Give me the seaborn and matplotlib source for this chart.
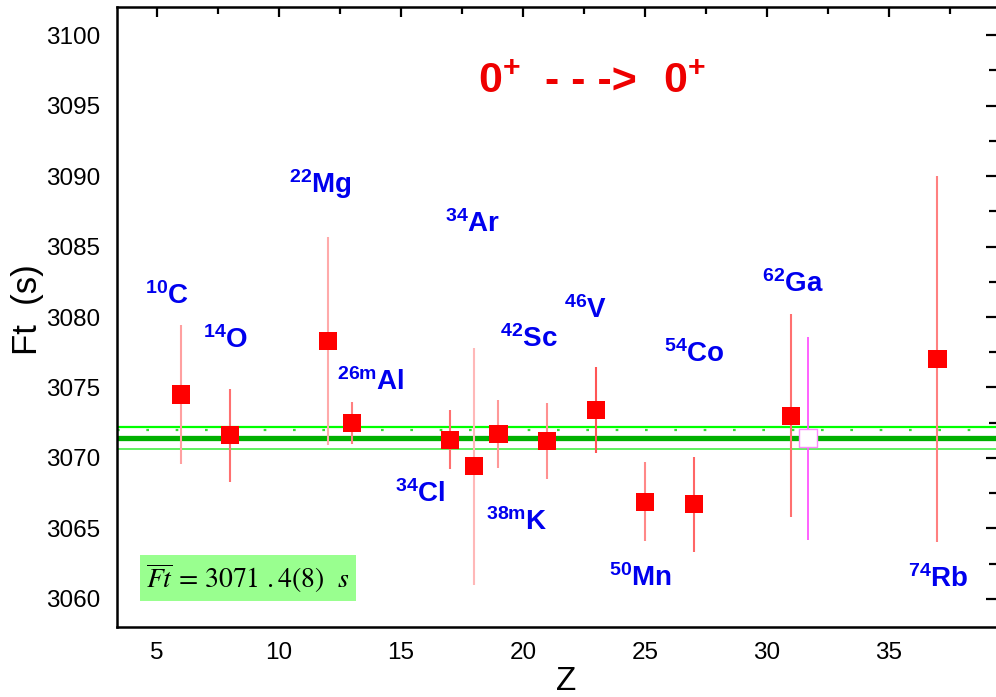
import numpy as np
import pandas as pd
import matplotlib
matplotlib.use("Agg")
import matplotlib.pyplot as plt
import seaborn as sns
from matplotlib.ticker import MultipleLocator

# ---------------- data ----------------
nuclides = ["10C", "14O", "22Mg", "26mAl", "34Cl", "34Ar", "38mK", "42Sc",
            "46V", "50Mn", "54Co", "62Ga", "74Rb"]
Z = [6, 8, 12, 13, 17, 18, 19, 21, 23, 25, 27, 31, 37]
Ft = [3074.5, 3071.6, 3078.3, 3072.5, 3071.3, 3069.4, 3071.7, 3071.2,
      3073.4, 3066.9, 3066.7, 3073.0, 3077.0]
Ft_err = [4.9, 3.3, 7.4, 1.5, 2.1, 8.4, 2.4, 2.7, 3.05, 2.8, 3.35, 7.2, 13.0]

# open (alternative) 62Ga point
alt_Z = [31.7]
alt_Ft = [3071.4]
alt_err = [7.2]

# weighted average band
avg_Ft = 3071.4
avg_err = 0.8
avg_dot = 3072.0

# label text (superscript mass, element) and anchor positions
lab_mass = ["10", "14", "22", "26m", "34", "34", "38m", "42", "46", "50", "54", "62", "74"]
lab_elem = ["C", "O", "Mg", "Al", "Cl", "Ar", "K", "Sc", "V", "Mn", "Co", "Ga", "Rb"]
lab_x = [4.5, 6.9, 10.4, 12.4, 14.75, 16.8, 18.5, 19.05, 21.7, 23.55, 25.8, 29.8, 35.8]
lab_y = [3080.9, 3077.8, 3088.8, 3074.8, 3066.9, 3086.0, 3064.9, 3077.9,
         3079.9, 3060.9, 3076.8, 3081.8, 3060.85]

# title pieces and positions
title_parts = [r"0$^{+}$", "- - ->", r"0$^{+}$"]
title_x = [18.16, 20.9, 25.74]
title_y = 3095.9

# ---------------- style ----------------
bar_colors = ["#ffa0a0", "#ff7070", "#ffaaaa", "#ff8080", "#ff7070", "#ffb8b8",
              "#ff9898", "#ff9090", "#ff5555", "#ff8888", "#ff6666", "#ff7070", "#ff8080"]

sns.set_style("white")
plt.rcParams["font.family"] = ["Liberation Sans", "DejaVu Sans"]
plt.rcParams["mathtext.fontset"] = "custom"
plt.rcParams["mathtext.rm"] = "Liberation Sans:bold"
plt.rcParams["mathtext.it"] = "Liberation Sans:bold"
plt.rcParams["mathtext.bf"] = "Liberation Sans:bold"

fig = plt.figure(figsize=(9.96, 6.97), dpi=100)
ax = fig.add_axes([117 / 996, 70 / 697, (996 - 117) / 996, (627 - 7) / 697])

# band
ax.axhline(avg_Ft + avg_err, color="#00ff00", lw=1.6, zorder=1)
ax.axhline(avg_Ft - avg_err, color="#44ee44", lw=1.2, zorder=1)
ax.axhline(avg_dot, color="#33dd33", lw=1.6, ls=(0, (1.2, 12)), zorder=1)
ax.axhline(avg_Ft, color="#00b000", lw=3.8, zorder=1)

# error bars
for zi, fi, ei, c in zip(Z, Ft, Ft_err, bar_colors):
    ax.vlines(zi, fi - ei, fi + ei, color=c, lw=1.5, zorder=2)
ax.vlines(alt_Z, np.array(alt_Ft) - np.array(alt_err), np.array(alt_Ft) + np.array(alt_err),
          color="#ff55ff", lw=1.3, zorder=2)

df = pd.DataFrame({"Z": Z, "Ft": Ft})
sns.scatterplot(data=df, x="Z", y="Ft", marker="s", s=170, color="#ff0000",
                edgecolor="none", linewidth=0, ax=ax, zorder=3)
df_alt = pd.DataFrame({"Z": alt_Z, "Ft": alt_Ft})
sns.scatterplot(data=df_alt, x="Z", y="Ft", marker="s", s=150, facecolor="white",
                edgecolor="#ff88ff", linewidth=1.0, ax=ax, zorder=3)

# nuclide labels
for m, e, x, y in zip(lab_mass, lab_elem, lab_x, lab_y):
    ax.text(x, y, r"$^{\mathrm{%s}}$%s" % (m, e), color="#0000ee", fontsize=20,
            fontweight="bold", ha="left", va="baseline", zorder=4)

# title inside plot
for t, x in zip(title_parts, title_x):
    ax.text(x, title_y, t, color="#ee0000", fontsize=31, fontweight="bold",
            ha="left", va="baseline")

# average box
ax.text(8.73, 3061.5, r"$\overline{Ft}\,=\,3071\ .4\left(8\right)\ \ s$", math_fontfamily="stix",
        fontsize=20, ha="center", va="center", color="black",
        bbox=dict(boxstyle="square,pad=0.22", facecolor="#99ff8f", edgecolor="none"))

ax.set_xlim(3.36, 39.4)
ax.set_ylim(3058.0, 3102.0)
ax.xaxis.set_major_locator(MultipleLocator(5))
ax.xaxis.set_minor_locator(MultipleLocator(2.5))
ax.yaxis.set_major_locator(MultipleLocator(5))
ax.yaxis.set_minor_locator(MultipleLocator(2.5))
ax.tick_params(which="both", direction="in", top=True, right=True, width=1.6, color="black",
               labelcolor="black")
ax.tick_params(which="major", length=7, labelsize=17.5)
ax.tick_params(which="minor", length=5)
ax.tick_params(axis="x", pad=11)
ax.tick_params(axis="y", pad=12)
ax.set_xlabel("")
ax.set_ylabel("")
for side in ["left", "bottom", "top"]:
    ax.spines[side].set_linewidth(1.8)
    ax.spines[side].set_color("black")
ax.spines["right"].set_visible(False)

fig.text(27 / 996, 1 - 310 / 697, "Ft  (s)", rotation=90, fontsize=25,
         ha="center", va="center", color="black")
fig.text(566 / 996, 1 - 681 / 697, "Z", fontsize=24, ha="center", va="center", color="black")

fig.savefig("out.png", dpi=100)
